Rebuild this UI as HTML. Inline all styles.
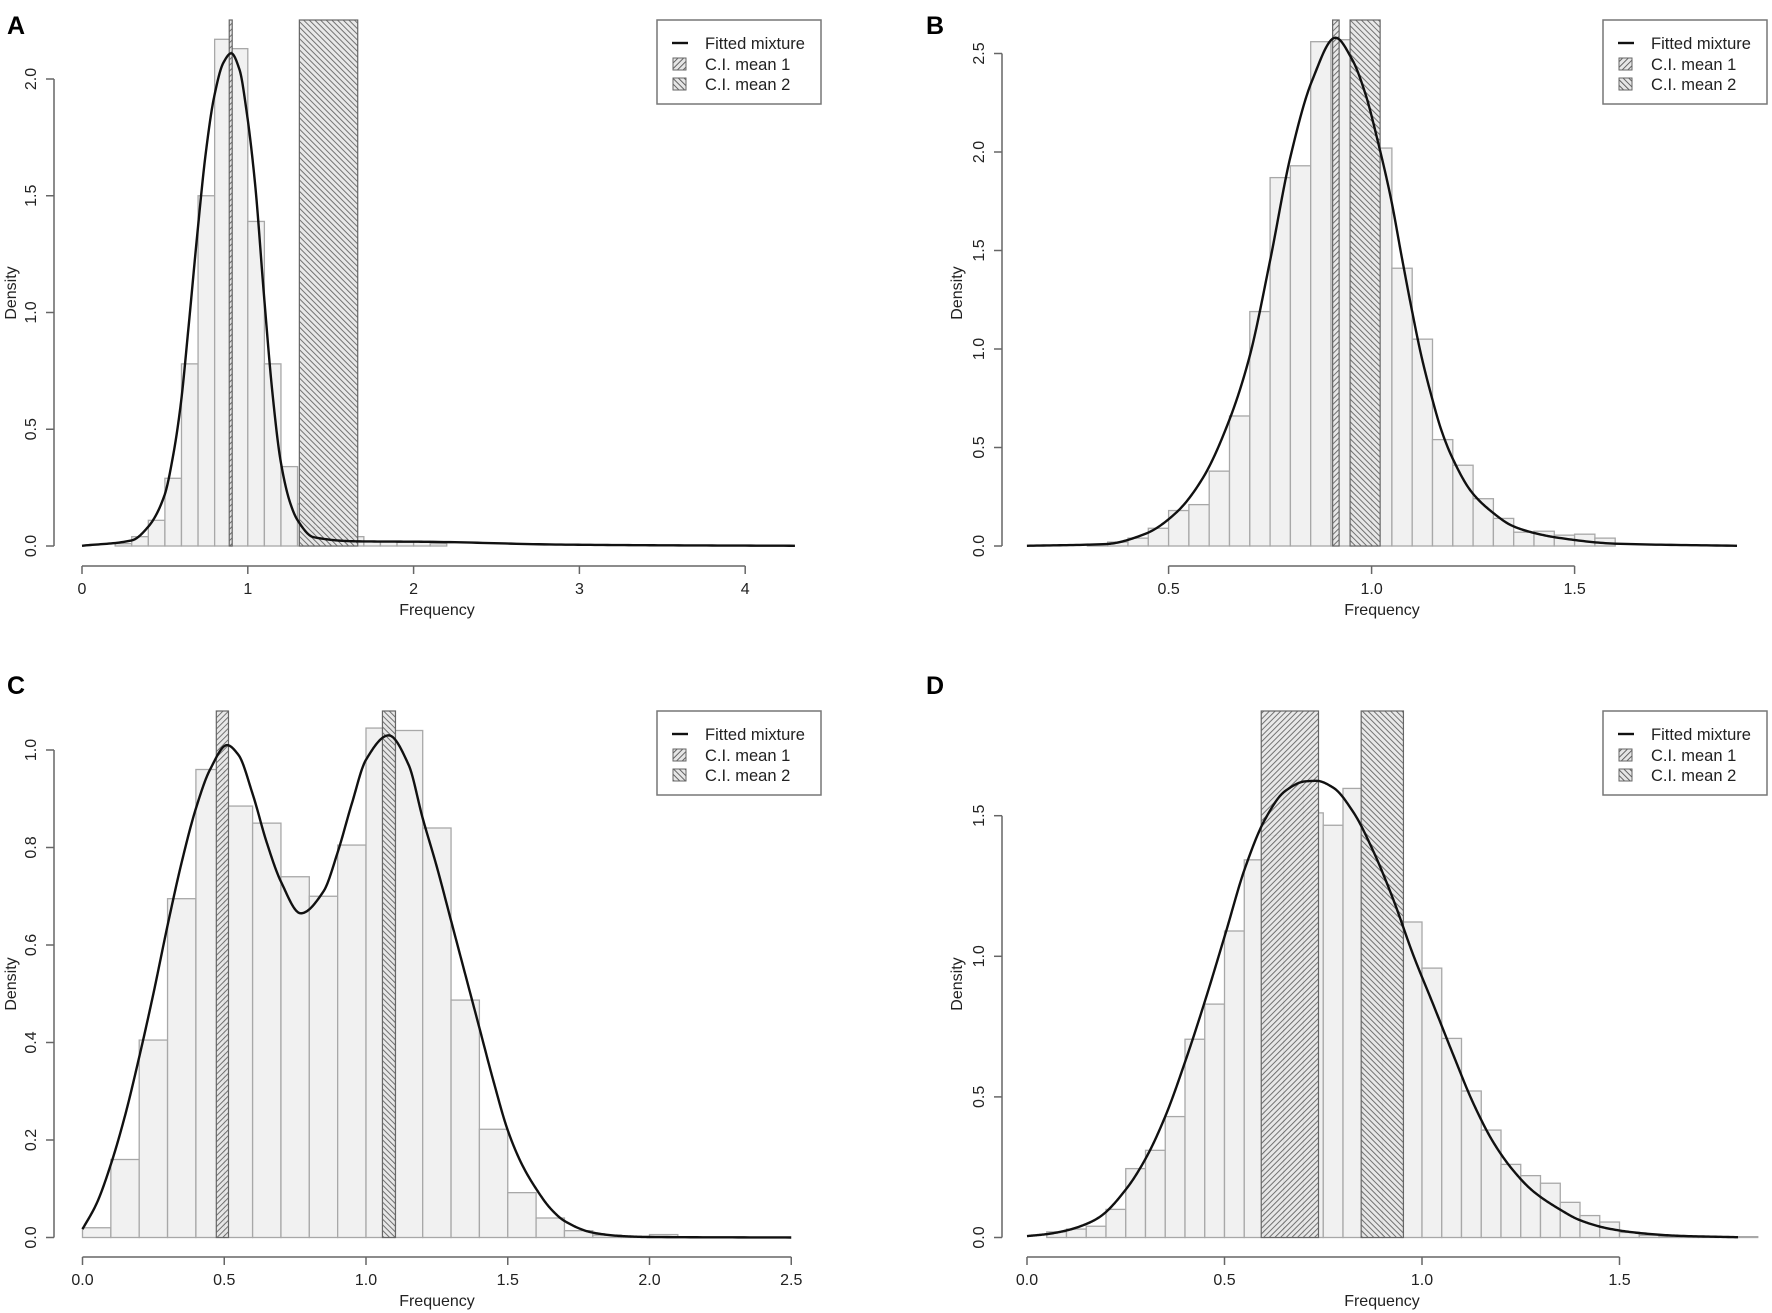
<!DOCTYPE html>
<html><head><meta charset="utf-8">
<style>
html,body{margin:0;padding:0;background:#fff;}
svg{display:block;font-family:"Liberation Sans",Arial,sans-serif;}
</style></head>
<body>
<svg id="fig" width="1772" height="1313" viewBox="0 0 1772 1313" xmlns="http://www.w3.org/2000/svg">
<defs>
<pattern id="hatch1" patternUnits="userSpaceOnUse" width="4" height="4" patternTransform="rotate(45)">
<rect width="4" height="4" fill="#e6e6e6"/><line x1="0" y1="0" x2="0" y2="4" stroke="#555" stroke-width="1.8"/>
</pattern>
<pattern id="hatch2" patternUnits="userSpaceOnUse" width="4" height="4" patternTransform="rotate(-45)">
<rect width="4" height="4" fill="#e6e6e6"/><line x1="0" y1="0" x2="0" y2="4" stroke="#555" stroke-width="1.8"/>
</pattern>
</defs>
</svg>
<script>
// ---- Panel A data ----
const aBinStart = [0.2,0.3,0.4,0.5,0.6,0.7,0.8,0.9,1.0,1.1,1.2,1.3,1.4,1.5,1.6,1.7,1.8,1.9,2.0,2.1];
const aDensity  = [0.01,0.04,0.11,0.29,0.78,1.5,2.17,2.13,1.39,0.78,0.34,0.18,0.08,0.05,0.04,0.02,0.02,0.02,0.02,0.01];
const aCurveX = [0,0.3,0.4,0.497,0.551,0.597,0.641,0.696,0.746,0.796,0.853,0.9,0.95,0.993,1.044,1.098,1.148,1.198,1.255,1.299,1.396,1.657,2.08,2.89,3.5,4.3];
const aCurveY = [0.001,0.024,0.083,0.216,0.393,0.615,0.926,1.34,1.68,1.92,2.07,2.11,2.04,1.86,1.55,1.07,0.66,0.364,0.186,0.112,0.038,0.02,0.018,0.006,0.003,0.001];
const aCI1 = [0.888,0.906];
const aCI2 = [1.311,1.663];
const aYTicks = [0,0.5,1.0,1.5,2.0];
const aYLabels = ["0.0","0.5","1.0","1.5","2.0"];
const aXTicks = [0,1,2,3,4];
const aXLabels = ["0","1","2","3","4"];
// ---- Panel B data ----
const bBinStart = [0.3,0.35,0.4,0.45,0.5,0.55,0.6,0.65,0.7,0.75,0.8,0.85,0.9,0.95,1.0,1.05,1.1,1.15,1.2,1.25,1.3,1.35,1.4,1.45,1.5,1.55];
const bDensity  = [0.01,0.02,0.04,0.09,0.18,0.21,0.38,0.66,1.19,1.87,1.93,2.56,2.57,2.19,2.02,1.41,1.05,0.54,0.41,0.24,0.14,0.07,0.075,0.055,0.06,0.04];
const bCurveX = [0.151,0.346,0.444,0.518,0.584,0.65,0.699,0.75,0.8,0.853,0.911,0.952,0.984,1.017,1.048,1.074,1.098,1.122,1.147,1.171,1.197,1.246,1.297,1.346,1.395,1.456,1.6,1.9];
const bCurveY = [0.001,0.01,0.063,0.168,0.344,0.642,0.958,1.449,1.975,2.36,2.58,2.47,2.30,2.04,1.76,1.47,1.21,0.97,0.765,0.593,0.456,0.275,0.172,0.103,0.069,0.043,0.012,0.001];
const bCI1 = [0.904,0.92];
const bCI2 = [0.947,1.021];
const bYTicks = [0,0.5,1.0,1.5,2.0,2.5];
const bYLabels = ["0.0","0.5","1.0","1.5","2.0","2.5"];
const bXTicks = [0.5,1.0,1.5];
const bXLabels = ["0.5","1.0","1.5"];
// ---- Panel C data ----
const cBinStart = [0,0.1,0.2,0.3,0.4,0.5,0.6,0.7,0.8,0.9,1.0,1.1,1.2,1.3,1.4,1.5,1.6,1.7,1.8,1.9,2.0];
const cDensity  = [0.02,0.16,0.405,0.695,0.96,0.885,0.85,0.74,0.70,0.805,1.045,1.04,0.84,0.487,0.222,0.092,0.04,0.014,0.005,0.002,0.006];
const cCurveX = [0,0.05,0.1,0.15,0.2,0.25,0.3,0.35,0.4,0.45,0.51,0.55,0.6,0.65,0.7,0.77,0.85,0.9,0.95,1.0,1.08,1.15,1.2,1.25,1.3,1.35,1.4,1.45,1.5,1.55,1.6,1.65,1.7,1.8,1.9,2.0,2.5];
const cCurveY = [0.017,0.07,0.15,0.25,0.37,0.5,0.64,0.77,0.88,0.96,1.01,0.99,0.91,0.81,0.73,0.665,0.71,0.79,0.89,0.98,1.03,0.97,0.86,0.76,0.65,0.54,0.43,0.32,0.22,0.15,0.10,0.06,0.034,0.01,0.003,0.001,0];
const cCI1 = [0.472,0.515];
const cCI2 = [1.058,1.104];
const cYTicks = [0,0.2,0.4,0.6,0.8,1.0];
const cYLabels = ["0.0","0.2","0.4","0.6","0.8","1.0"];
const cXTicks = [0,0.5,1.0,1.5,2.0,2.5];
const cXLabels = ["0.0","0.5","1.0","1.5","2.0","2.5"];
// ---- Panel D data ----
const dBinStart = [0.05,0.1,0.15,0.2,0.25,0.3,0.35,0.4,0.45,0.5,0.55,0.6,0.65,0.7,0.75,0.8,0.85,0.9,0.95,1.0,1.05,1.1,1.15,1.2,1.25,1.3,1.35,1.4,1.45,1.5,1.55,1.6,1.65,1.7,1.75,1.8];
const dDensity  = [0.02,0.03,0.04,0.1,0.245,0.31,0.43,0.705,0.83,1.09,1.343,1.43,1.607,1.51,1.466,1.597,1.37,1.254,1.122,0.958,0.708,0.521,0.382,0.26,0.22,0.193,0.125,0.078,0.055,0.018,0.008,0.003,0.003,0.003,0.003,0.003];
const dCurveX = [0,0.05,0.1,0.15,0.185,0.252,0.302,0.351,0.402,0.451,0.502,0.552,0.603,0.653,0.704,0.733,0.775,0.826,0.876,0.927,0.978,1.028,1.079,1.129,1.18,1.23,1.281,1.35,1.399,1.475,1.55,1.65,1.8];
const dCurveY = [0.005,0.012,0.025,0.048,0.074,0.174,0.285,0.434,0.632,0.843,1.079,1.314,1.488,1.587,1.622,1.624,1.6,1.513,1.376,1.203,1.004,0.83,0.65,0.48,0.34,0.24,0.165,0.099,0.062,0.031,0.016,0.006,0.001];
const dCI1 = [0.593,0.738];
const dCI2 = [0.846,0.953];
const dYTicks = [0,0.5,1.0,1.5];
const dYLabels = ["0.0","0.5","1.0","1.5"];
const dXTicks = [0,0.5,1.0,1.5];
const dXLabels = ["0.0","0.5","1.0","1.5"];

const NS = "http://www.w3.org/2000/svg";
const svg = document.getElementById('fig');
function mk(tag, attrs, parent){
  const e = document.createElementNS(NS, tag);
  for (const k in attrs) e.setAttribute(k, attrs[k]);
  (parent||svg).appendChild(e);
  return e;
}
function monotonePath(xs, ys, sx, sy){
  const n = xs.length, d = [], m = new Array(n);
  for (let i=0;i<n-1;i++) d.push((ys[i+1]-ys[i])/(xs[i+1]-xs[i]));
  m[0] = d[0]; m[n-1] = d[n-2];
  for (let i=1;i<n-1;i++){
    if (d[i-1]*d[i] <= 0) m[i] = 0;
    else { const w1 = 2*(xs[i+1]-xs[i]) + (xs[i]-xs[i-1]), w2 = (xs[i+1]-xs[i]) + 2*(xs[i]-xs[i-1]);
      m[i] = (w1+w2)/(w1/d[i-1] + w2/d[i]); }
  }
  let path = "M" + sx(xs[0]).toFixed(2) + "," + sy(ys[0]).toFixed(2);
  for (let i=0;i<n-1;i++){
    const h = xs[i+1]-xs[i], steps = 24;
    for (let s=1;s<=steps;s++){
      const t = s/steps, t2=t*t, t3=t2*t;
      const v = (2*t3-3*t2+1)*ys[i] + (t3-2*t2+t)*h*m[i] + (-2*t3+3*t2)*ys[i+1] + (t3-t2)*h*m[i+1];
      path += " L" + sx(xs[i]+t*h).toFixed(2) + "," + sy(Math.max(0,v)).toFixed(2);
    }
  }
  return path;
}

function panel(cfg){
  const g = mk('g', {});
  
  
  const sx = v => cfg.x0 + v*cfg.kx;
  const sy = v => cfg.y0 - v*cfg.ky;
  const t = mk('text', {x:cfg.titleX, y:cfg.titleY, 'font-size':25, 'font-weight':'bold', fill:'#000'}, g);
  t.textContent = cfg.id;
  
  
  const bg = mk('g', {}, g);
  
  
  for (let i=0;i<cfg.bins.length;i++){
    const x1 = sx(cfg.bins[i]), x2 = sx(cfg.bins[i]+cfg.bw);
    const yt = sy(cfg.dens[i]);
    const r = mk('rect', {x:x1, y:yt, width:x2-x1, height:cfg.y0-yt, fill:'#f1f1f1', stroke:'#a8a8a8', 'stroke-width':1.3}, bg);
    
    
  }
  [[cfg.ci1,'hatch1','ci-mean-1'],[cfg.ci2,'hatch2','ci-mean-2']].forEach(c=>{
    const x1 = sx(c[0][0]), x2 = sx(c[0][1]);
    const r = mk('rect', {x:x1, y:cfg.top, width:x2-x1, height:cfg.y0-cfg.top, fill:'url(#'+c[1]+')', stroke:'#666', 'stroke-width':1.2, 'fill-opacity':0.9}, g);
    
    
  });
  const p = mk('path', {d:monotonePath(cfg.cx, cfg.cy, sx, sy), fill:'none', stroke:'#111', 'stroke-width':2.4, 'stroke-linejoin':'round'}, g);
  
  
  const ya = mk('g', {}, g);
  
  
  mk('line', {x1:cfg.yaxX, x2:cfg.yaxX, y1:sy(cfg.yt[0]), y2:sy(cfg.yt[cfg.yt.length-1]), stroke:'#666', 'stroke-width':1.5}, ya);
  cfg.yt.forEach((v,i)=>{
    mk('line', {x1:cfg.yaxX-8, x2:cfg.yaxX, y1:sy(v), y2:sy(v), stroke:'#666', 'stroke-width':1.5}, ya);
    const tx = cfg.yaxX-18, ty = sy(v);
    const l = mk('text', {x:tx, y:ty, 'font-size':16, fill:'#222', 'text-anchor':'middle', transform:'rotate(-90 '+tx+' '+ty+')'}, ya);
    l.textContent = cfg.yl[i];
    
    
  });
  const yl = mk('text', {x:cfg.ylabX, y:cfg.ylabY, 'font-size':16, fill:'#222', 'text-anchor':'middle', transform:'rotate(-90 '+cfg.ylabX+' '+cfg.ylabY+')'}, ya);
  yl.textContent = 'Density';
  
  
  const xa = mk('g', {}, g);
  
  
  mk('line', {x1:sx(cfg.xt[0]), x2:sx(cfg.xt[cfg.xt.length-1]), y1:cfg.xaxY, y2:cfg.xaxY, stroke:'#666', 'stroke-width':1.5}, xa);
  cfg.xt.forEach((v,i)=>{
    mk('line', {x1:sx(v), x2:sx(v), y1:cfg.xaxY, y2:cfg.xaxY+8, stroke:'#666', 'stroke-width':1.5}, xa);
    const l = mk('text', {x:sx(v), y:cfg.xaxY+28, 'font-size':16, fill:'#222', 'text-anchor':'middle'}, xa);
    l.textContent = cfg.xl[i];
    
    
  });
  const xl = mk('text', {x:cfg.xlabX, y:cfg.xaxY+49, 'font-size':16, fill:'#222', 'text-anchor':'middle'}, xa);
  xl.textContent = 'Frequency';
  
  
  const lg = mk('g', {}, g);
  
  
  const L = cfg.legX, T = cfg.top;
  mk('rect', {x:L, y:T, width:164, height:84, fill:'#fff', stroke:'#777', 'stroke-width':1.5}, lg);
  mk('line', {x1:L+15, x2:L+31, y1:T+23, y2:T+23, stroke:'#111', 'stroke-width':2.4}, lg);
  mk('rect', {x:L+16, y:T+38, width:13, height:12, fill:'url(#hatch1)', stroke:'#666'}, lg);
  mk('rect', {x:L+16, y:T+58, width:13, height:12, fill:'url(#hatch2)', stroke:'#666'}, lg);
  [['Fitted mixture',T+29,'legend-entry-fitted-mixture'],['C.I. mean 1',T+50,'legend-entry-ci-mean-1'],['C.I. mean 2',T+70,'legend-entry-ci-mean-2']].forEach(e=>{
    const tt = mk('text', {x:L+48, y:e[1], 'font-size':16.5, fill:'#222'}, lg);
    tt.textContent = e[0];
    
    
  });
}

panel({id:'A', bins:aBinStart, bw:0.1, dens:aDensity, cx:aCurveX, cy:aCurveY, ci1:aCI1, ci2:aCI2, yt:aYTicks, yl:aYLabels, xt:aXTicks, xl:aXLabels,
  x0:82, kx:165.8, y0:546, ky:233.5, top:20, yaxX:54, xaxY:566, ylabX:16, ylabY:293, xlabX:437, titleX:7, titleY:34, legX:657});
panel({id:'B', bins:bBinStart, bw:0.05, dens:bDensity, cx:bCurveX, cy:bCurveY, ci1:bCI1, ci2:bCI2, yt:bYTicks, yl:bYLabels, xt:bXTicks, xl:bXLabels,
  x0:965.6, kx:406, y0:546, ky:197, top:20, yaxX:1002, xaxY:566, ylabX:962, ylabY:293, xlabX:1382, titleX:926, titleY:34, legX:1603});
panel({id:'C', bins:cBinStart, bw:0.1, dens:cDensity, cx:cCurveX, cy:cCurveY, ci1:cCI1, ci2:cCI2, yt:cYTicks, yl:cYLabels, xt:cXTicks, xl:cXLabels,
  x0:82.5, kx:283.5, y0:1237.5, ky:487.5, top:711, yaxX:54, xaxY:1257, ylabX:16, ylabY:984, xlabX:437, titleX:7, titleY:694, legX:657});
panel({id:'D', bins:dBinStart, bw:0.05, dens:dDensity, cx:dCurveX, cy:dCurveY, ci1:dCI1, ci2:dCI2, yt:dYTicks, yl:dYLabels, xt:dXTicks, xl:dXLabels,
  x0:1027, kx:395, y0:1237.5, ky:281.2, top:711, yaxX:1002, xaxY:1257, ylabX:962, ylabY:984, xlabX:1382, titleX:926, titleY:694, legX:1603});
</script>
</body></html>
